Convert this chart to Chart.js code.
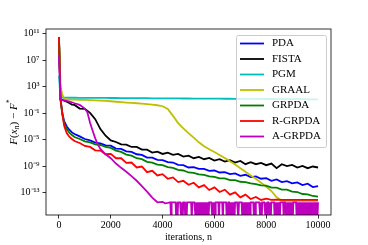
<!DOCTYPE html>
<html>
<head>
<meta charset="utf-8">
<script src="https://cdn.jsdelivr.net/npm/chart.js@4.4.1/dist/chart.umd.min.js"></script>
<style>
  html, body { margin: 0; padding: 0; background: #fff; }
</style>
</head>
<body>
<canvas id="convChart" width="368" height="245"></canvas>
<script>
// iteration grid shared by most methods
const iterations = [0, 60, 130, 200, 300, 400, 500, 600,
  800, 1000, 1200, 1400, 1600, 1800, 2000, 2200, 2400, 2600,
  2800, 3000, 3200, 3400, 3600, 3800, 4000, 4200, 4400, 4600,
  4800, 5000, 5200, 5400, 5600, 5800, 6000, 6200, 6400, 6600,
  6800, 7000, 7200, 7400, 7600, 7800, 8000, 8200, 8400, 8600,
  8800, 9000, 9200, 9400, 9600, 9800, 10000];

// log10(F(x_n) - F*)
const pdaLog = [10.5, 1.1, -1.0, -2.2, -3.0, -3.5, -3.9, -4.15,
  -4.5, -4.9, -5.1, -5.45, -5.55, -5.85, -5.9, -6.35, -6.4, -6.75,
  -6.85, -7.2, -7.3, -7.7, -7.7, -8.05, -8.1, -8.4, -8.45, -8.8,
  -8.85, -9.2, -9.15, -9.4, -9.4, -9.7, -9.65, -9.95, -9.9, -10.2,
  -10.1, -10.45, -10.3, -10.65, -10.55, -10.9, -10.8, -11.2, -11.0, -11.4,
  -11.25, -11.6, -11.45, -11.85, -11.65, -12.15, -12.0];
const fistaLog = [10.5, 1.1, 1.0, 0.9, 0.75, 0.55, 0.3, 0.25,
  -0.3, -0.35, -0.95, -1.9, -3.4, -4.4, -5.1, -5.35, -5.7, -5.75,
  -6.1, -6.1, -6.5, -6.5, -6.95, -6.8, -7.15, -6.95, -7.3, -7.15,
  -7.55, -7.4, -7.8, -7.6, -7.95, -7.75, -8.15, -7.95, -8.3, -8.1,
  -8.45, -8.2, -8.7, -8.4, -8.7, -8.5, -8.85, -8.6, -9.3, -8.7,
  -9.0, -8.8, -9.2, -8.95, -9.3, -9.05, -9.2];
const pgmLog = [4.7, 1.35, 1.34, 1.34, 1.34, 1.33, 1.33, 1.33,
  1.32, 1.32, 1.31, 1.31, 1.3, 1.3, 1.29, 1.29, 1.28, 1.28,
  1.27, 1.27, 1.26, 1.26, 1.25, 1.25, 1.24, 1.24, 1.23, 1.23,
  1.22, 1.22, 1.21, 1.21, 1.2, 1.2, 1.19, 1.19, 1.18, 1.18,
  1.17, 1.17, 1.16, 1.16, 1.15, 1.15, 1.14, 1.14, 1.13, 1.13,
  1.12, 1.12, 1.11, 1.11, 1.1, 1.1, 1.1];
const graalLog = [10.5, 3.0, 1.8, 1.15, 1.1, 1.07, 1.05, 1.04,
  1.02, 1.0, 0.97, 0.94, 0.9, 0.86, 0.8, 0.73, 0.66, 0.6,
  0.55, 0.5, 0.45, 0.38, 0.3, 0.2, 0.05, -0.35, -1.4, -2.5,
  -3.3, -4.0, -4.7, -5.4, -6.0, -6.45, -6.85, -7.3, -7.75, -8.25,
  -8.75, -9.3, -9.85, -10.4, -10.9, -11.5, -12.1, -12.75, -13.7, -14.2,
  -14.25, -14.25, -14.25, -14.25, -14.25, -14.25, -14.25];
const grpdaLog = [10.5, 1.1, -1.2, -2.5, -3.4, -3.95, -4.3, -4.6,
  -4.9, -5.25, -5.4, -5.7, -5.8, -6.1, -6.25, -6.65, -6.85, -7.25,
  -7.4, -7.8, -7.95, -8.35, -8.45, -8.75, -8.85, -9.15, -9.25, -9.55,
  -9.65, -9.95, -10.0, -10.25, -10.3, -10.55, -10.6, -10.85, -10.85, -11.1,
  -11.1, -11.35, -11.4, -11.6, -11.7, -11.9, -11.95, -12.25, -12.25, -12.55,
  -12.55, -12.85, -12.9, -13.2, -13.25, -13.5, -13.6];
const rGrpdaLog = [10.5, 1.1, -1.0, -2.9, -4.0, -4.55, -4.9, -5.2,
  -5.5, -5.95, -6.1, -6.6, -6.65, -7.2, -7.15, -7.8, -7.8, -8.5,
  -8.45, -9.2, -9.05, -9.9, -9.7, -10.4, -10.2, -10.9, -10.7, -11.4,
  -11.2, -11.8, -11.5, -12.2, -11.85, -12.6, -12.2, -12.9, -12.55, -13.3,
  -12.95, -13.7, -13.3, -13.95, -13.65, -14.1, -13.9, -14.1, -14.05, -14.1,
  -14.1, -14.1, -14.1, -14.1, -14.1, -14.1, -14.1];

// A-GRPDA has its own grid, then a tail that keeps hitting zero
const aGrpdaIters = [0, 60, 130, 200, 300, 400, 500, 600, 800, 1000,
  1100, 1200, 1300, 1400, 1500, 1600, 1800, 2000, 2200, 2400,
  2600, 2800, 3000, 3200, 3400, 3600, 3800, 4000, 4100, 4200];
const aGrpdaLog = [7.7, 1.1, 1.0, 0.92, 0.85, 0.75, 0.65, 0.5, 0.25, -0.3,
  -0.9, -2.45, -3.65, -4.8, -5.7, -6.4, -7.2, -7.8, -8.6, -9.25,
  -9.85, -10.5, -11.2, -12.0, -12.85, -13.75, -14.45, -14.4, -14.6, -14.55];
// one char per 25 iterations from n = 4300: 0 = floor, 1 = drops to zero
const aGrpdaTailStart = 4300;
const aGrpdaTailStep = 25;
const aGrpdaTail =
  '0100000001' + '0100000101' + '0001010000' + '0001000001' + '0101010101' +
  '0101010101' + '0000010101' + '0000010000' + '0100000101' + '0001010101' +
  '0000010000' + '0101010101' + '0101000001' + '0100000001' + '0100000101' +
  '0001010000' + '0101010101' + '0000010001' + '0101010101' + '0000010101' +
  '0101010101' + '0101010101' + '010101010';
const aGrpdaFloorLog = -14.45;
const aGrpdaZeroLog = -17;

const methodNames = ['PDA', 'FISTA', 'PGM', 'GRAAL', 'GRPDA', 'R-GRPDA', 'A-GRPDA'];
const methodColors = ['#0000ff', '#000000', '#00bfbf', '#bfbf00', '#008000', '#ff0000', '#bf00bf'];
const xTicks = [0, 2000, 4000, 6000, 8000, 10000];
const yTickExps = [-13, -9, -5, -1, 3, 7, 11];

const serif = '"Liberation Serif", "Times New Roman", serif';

function toPoints(xs, logs) {
  return xs.map((n, i) => ({ x: n, y: Math.pow(10, logs[i]) }));
}

const aGrpdaPoints = toPoints(aGrpdaIters, aGrpdaLog);
for (let i = 0; i < aGrpdaTail.length; i++) {
  const lv = aGrpdaTail[i] === '1' ? aGrpdaZeroLog : aGrpdaFloorLog;
  aGrpdaPoints.push({ x: aGrpdaTailStart + i * aGrpdaTailStep, y: Math.pow(10, lv) });
}

const seriesPoints = [
  toPoints(iterations, pdaLog),
  toPoints(iterations, fistaLog),
  toPoints(iterations, pgmLog),
  toPoints(iterations, graalLog),
  toPoints(iterations, grpdaLog),
  toPoints(iterations, rGrpdaLog),
  aGrpdaPoints
];

const supMap = { '-': '\u207B', '0': '\u2070', '1': '\u00B9', '2': '\u00B2', '3': '\u00B3',
  '4': '\u2074', '5': '\u2075', '6': '\u2076', '7': '\u2077', '8': '\u2078', '9': '\u2079' };
function powLabel(e) {
  return '10' + String(e).split('').map(c => supMap[c]).join('');
}

// axes frame, y label with sub/superscripts, and the legend inside the plot
const decorations = {
  id: 'decorations',
  afterDraw(chart) {
    const { ctx, chartArea: a } = chart;
    ctx.save();
    ctx.strokeStyle = '#000';
    ctx.lineWidth = 0.8;
    ctx.strokeRect(a.left, a.top, a.right - a.left, a.bottom - a.top);

    // y label: F(x_n) - F*
    const parts = [
      { t: 'F', it: true }, { t: '(' }, { t: 'x', it: true },
      { t: 'n', it: true, small: true, dy: 3 }, { t: ')' }, { t: ' \u2212 ' },
      { t: 'F', it: true }, { t: '*', small: true, dy: -4 }
    ];
    const fontFor = p => (p.it ? 'italic ' : '') + (p.small ? 8 : 11) + 'px ' + serif;
    let total = 0;
    parts.forEach(p => { ctx.font = fontFor(p); p.w = ctx.measureText(p.t).width; total += p.w; });
    ctx.translate(14, (a.top + a.bottom) / 2);
    ctx.rotate(-Math.PI / 2);
    ctx.fillStyle = '#000';
    ctx.textBaseline = 'middle';
    let x = -total / 2;
    parts.forEach(p => {
      ctx.font = fontFor(p);
      ctx.fillText(p.t, x, p.dy || 0);
      x += p.w;
    });
    ctx.restore();

    // legend
    const bx = 236, by = 35, bw = 90, bh = 112;
    ctx.save();
    ctx.beginPath();
    ctx.roundRect(bx + 0.5, by + 0.5, bw, bh, 2);
    ctx.fillStyle = 'rgba(255,255,255,0.8)';
    ctx.fill();
    ctx.strokeStyle = '#cccccc';
    ctx.lineWidth = 1;
    ctx.stroke();
    ctx.font = '11px ' + serif;
    ctx.textBaseline = 'middle';
    methodNames.forEach((name, i) => {
      const y = 43.5 + i * 15.5;
      ctx.strokeStyle = methodColors[i];
      ctx.lineWidth = 1.8;
      ctx.beginPath();
      ctx.moveTo(240, y);
      ctx.lineTo(264, y);
      ctx.stroke();
      ctx.fillStyle = '#000';
      ctx.fillText(name, 272, y);
    });
    ctx.restore();
  }
};

const ctx = document.getElementById('convChart').getContext('2d');
const convChart = new Chart(ctx, {
  type: 'line',
  data: {
    datasets: methodNames.map((name, i) => ({
      label: name,
      data: seriesPoints[i],
      borderColor: methodColors[i],
      backgroundColor: methodColors[i],
      borderWidth: 1.8,
      pointRadius: 0,
      tension: 0,
      fill: false,
      order: methodNames.length - i
    }))
  },
  options: {
    responsive: false,
    animation: false,
    devicePixelRatio: 1,
    layout: { padding: { left: 0, right: 37, top: 29, bottom: 0 } },
    plugins: {
      legend: { display: false },
      tooltip: { enabled: false }
    },
    scales: {
      x: {
        type: 'linear',
        min: -500,
        max: 10500,
        afterBuildTicks: s => { s.ticks = xTicks.map(v => ({ value: v })); },
        afterFit: s => { s.height = 30; },
        border: { display: false },
        grid: { drawOnChartArea: false, drawTicks: true, tickLength: 3.5, tickWidth: 0.8, tickColor: '#000' },
        ticks: { color: '#000', padding: 1, maxRotation: 0, autoSkip: false,
          font: { family: serif, size: 10 },
          callback: v => String(v) },
        title: { display: true, text: 'iterations, n', color: '#000',
          font: { family: serif, size: 10 }, padding: { top: 0, bottom: 2 } }
      },
      y: {
        type: 'logarithmic',
        min: Math.pow(10, -16.37),
        max: Math.pow(10, 11.71),
        afterBuildTicks: s => { s.ticks = yTickExps.map(e => ({ value: Math.pow(10, e) })); },
        afterFit: s => { s.width = 46; },
        border: { display: false },
        grid: { drawOnChartArea: false, drawTicks: true, tickLength: 3.5, tickWidth: 0.8, tickColor: '#000' },
        ticks: { color: '#000', padding: 3, autoSkip: false,
          font: { family: serif, size: 10 },
          callback: v => powLabel(Math.round(Math.log10(v))) }
      }
    }
  },
  plugins: [decorations]
});
</script>
</body>
</html>
